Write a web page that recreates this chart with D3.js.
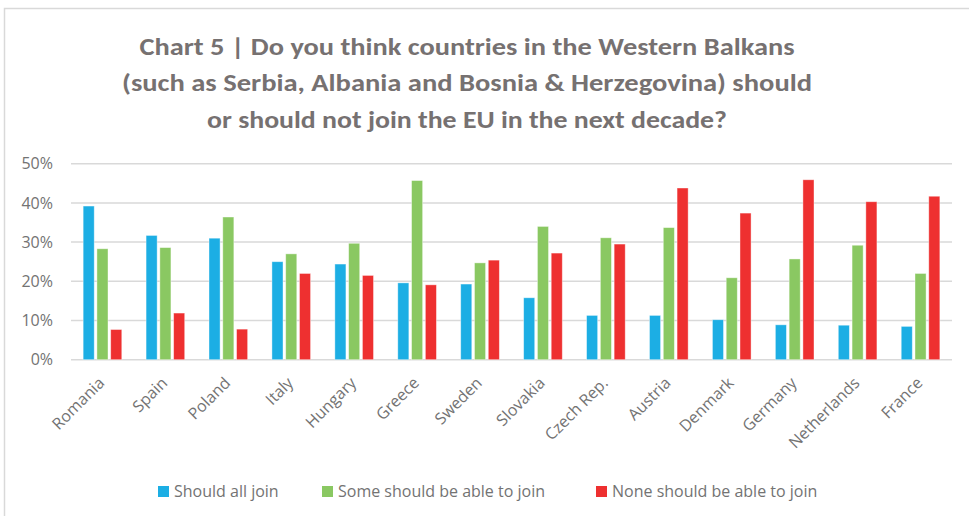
<!DOCTYPE html>
<html><head><meta charset="utf-8">
<script src="https://cdn.jsdelivr.net/npm/d3@7"></script>
<style>body{margin:0;background:#fff}svg{display:block}</style>
</head><body><svg id="c" width="969" height="516"></svg>
<script>
const categories = ["Romania","Spain","Poland","Italy","Hungary","Greece","Sweden","Slovakia","Czech Rep.","Austria","Denmark","Germany","Netherlands","France"];
const seriesNames = ["Should all join","Some should be able to join","None should be able to join"];
const allJoin  = [39.2,31.7,31.0,25.0,24.4,19.6,19.3,15.8,11.3,11.3,10.2,8.9,8.8,8.5];
const someJoin = [28.3,28.6,36.4,27.0,29.7,45.7,24.7,34.0,31.1,33.7,20.9,25.7,29.2,22.0];
const noneJoin = [7.7,11.9,7.8,22.0,21.5,19.1,25.4,27.2,29.5,43.8,37.4,45.9,40.3,41.7];
const yTicks = [0,10,20,30,40,50];
const titleLines = ["Chart 5 | Do you think countries in the Western Balkans","(such as Serbia, Albania and Bosnia & Herzegovina) should","or should not join the EU in the next decade?"];
const colors = ["#1CAEE4","#8AC862","#EE3030"];
const series = [allJoin, someJoin, noneJoin];

const svg = d3.select("#c");
const tfont = "Carlito, Lato, sans-serif";
const font = "'Open Sans', sans-serif";
const textColor = "#737373";
// frame
svg.append("path").attr("d","M4.5,516 V8.5 H969").attr("fill","none").attr("stroke","#d9d9d9").attr("stroke-width",1.5);

// title
const tLens=[655,690,520], tY=[55,91,128];
titleLines.forEach((t,i)=>{
  svg.append("text").attr("x",467).attr("y",tY[i]).attr("text-anchor","middle")
    .attr("font-family",tfont).attr("font-weight","bold").attr("font-size",24).attr("fill","#767171")
    .attr("textLength",tLens[i]).attr("lengthAdjust","spacingAndGlyphs").text(t);
});

const x = d3.scaleBand().domain(categories).range([71,952]);
const y = d3.scaleLinear().domain([0,50]).range([359.7,163.7]);

// grid
svg.append("g").selectAll("line").data(yTicks).join("line")
  .attr("x1",71).attr("x2",952).attr("y1",d=>y(d)).attr("y2",d=>y(d))
  .attr("stroke","#d9d9d9").attr("stroke-width",1.5);
svg.append("g").selectAll("text").data(yTicks).join("text")
  .attr("x",53).attr("y",d=>y(d)).attr("dy","0.35em").attr("text-anchor","end")
  .attr("font-family",font).attr("font-size",16).attr("fill",textColor).text(d=>d+"%");

// bars
const bw = x.bandwidth();
const barW = bw*0.176, step = bw*0.219;
series.forEach((vals,si)=>{
  svg.append("g").selectAll("rect").data(categories).join("rect")
    .attr("x",(c)=>x(c)+bw/2 - step - barW/2 + si*step)
    .attr("y",(c,i)=>y(vals[i]))
    .attr("width",barW)
    .attr("height",(c,i)=>y(0)-y(vals[i]))
    .attr("fill",colors[si])
    .attr("stroke","#ffffff").attr("stroke-opacity",0.5).attr("stroke-width",0.8);
});

// x labels
svg.append("g").selectAll("text").data(categories).join("text")
  .attr("transform",c=>`translate(${x(c)+bw/2+3},${384}) rotate(-45)`)
  .attr("text-anchor","end")
  .attr("font-family",font).attr("font-size",16).attr("fill",textColor).text(c=>c);

// legend
const lx=[158,322,596];
seriesNames.forEach((n,i)=>{
  svg.append("rect").attr("x",lx[i]).attr("y",486).attr("width",11).attr("height",11).attr("fill",colors[i]);
  svg.append("text").attr("x",lx[i]+16).attr("y",491.5).attr("dy","0.35em")
    .attr("font-family",font).attr("font-size",16).attr("fill",textColor).text(n);
});
</script></body></html>
